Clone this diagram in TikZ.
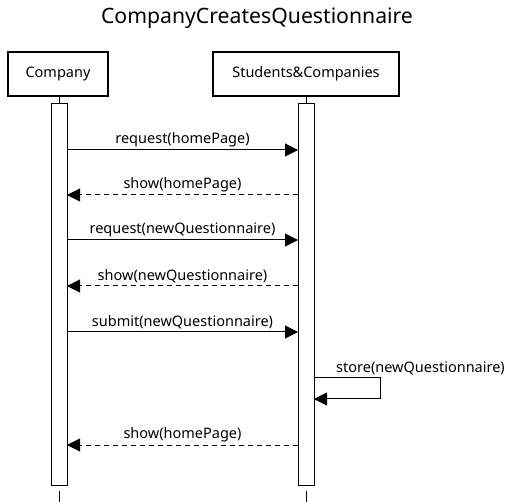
\documentclass[tikz,border=0pt]{standalone}
\usepackage{fontspec}
\setmainfont{Noto Sans}
\usetikzlibrary{arrows.meta}
\begin{document}
\begin{tikzpicture}[x=1pt,y=-1pt,
  actor/.style={draw,line width=2.5pt,minimum height=44pt,inner sep=0pt,font=\fontsize{14.5}{17}\selectfont},
  act/.style={draw,line width=1pt,fill=white,minimum width=16pt,inner sep=0pt},
  lifeline/.style={line width=1pt},
  msg/.style={line width=1pt,-{Triangle[length=13pt,width=13pt]}},
  ret/.style={msg,dash pattern=on 5pt off 4pt},
  lbl/.style={font=\fontsize{14.5}{17}\selectfont,inner sep=0pt}]
\useasboundingbox (0,0) rectangle (514,502);
\node[font=\fontsize{21.2}{25}\selectfont] (title) at (257,18) {CompanyCreatesQuestionnaire};
\node[actor,minimum width=100pt] (company) at (58,74) {Company};
\node[actor,minimum width=186pt] (sc) at (306,74) {Students\&Companies};
\draw[lifeline] (59,96) -- (59,104);
\draw[lifeline] (306,96) -- (306,104);
\draw[lifeline] (59,491) -- (59,502);
\draw[lifeline] (306,491) -- (306,502);
\node[act,minimum height=381pt] (ac) at (59,294.5) {};
\node[act,minimum height=381pt] (as) at (306,294.5) {};
% messages
\coordinate (c1) at (67,150); \coordinate (s1) at (298,150);
\draw[msg] (c1) -- node[lbl,above=3pt] {request(homePage)} (s1);
\coordinate (c2) at (67,195); \coordinate (s2) at (298,195);
\draw[ret] (s2) -- node[lbl,above=3pt] {show(homePage)} (c2);
\coordinate (c3) at (67,240); \coordinate (s3) at (298,240);
\draw[msg] (c3) -- node[lbl,above=3pt] {request(newQuestionnaire)} (s3);
\coordinate (c4) at (67,286); \coordinate (s4) at (298,286);
\draw[ret] (s4) -- node[lbl,above=3pt] {show(newQuestionnaire)} (c4);
\coordinate (c5) at (67,332); \coordinate (s5) at (298,332);
\draw[msg] (c5) -- node[lbl,above=3pt] {submit(newQuestionnaire)} (s5);
\coordinate (s6a) at (314,378); \coordinate (s6b) at (380,378);
\coordinate (s6c) at (380,399); \coordinate (s6d) at (314,399);
\draw[msg] (s6a) -- (s6b) -- (s6c) -- (s6d);
\node[lbl,anchor=south west] (storelbl) at (336,375) {store(newQuestionnaire)};
\coordinate (c7) at (67,445); \coordinate (s7) at (298,445);
\draw[ret] (s7) -- node[lbl,above=3pt] {show(homePage)} (c7);
\end{tikzpicture}
\end{document}
